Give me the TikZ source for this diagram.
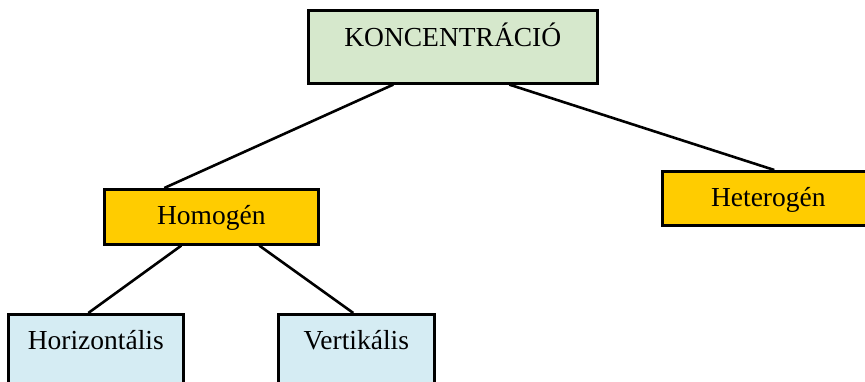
\documentclass[tikz,border=0pt]{standalone}
\usepackage{fontspec}
\setmainfont{Liberation Serif}
\definecolor{topgreen}{RGB}{214,232,204}
\definecolor{midyellow}{RGB}{255,204,0}
\definecolor{leafblue}{RGB}{213,236,243}
\begin{document}
\begin{tikzpicture}[x=1pt,y=-1pt,
  box/.style={draw=black, line width=2.6pt, anchor=north west, inner xsep=0pt,
    inner ysep=0pt, font=\fontsize{27.5}{32}\selectfont, align=center},
  link/.style={draw=black, line width=2.6pt}]
\useasboundingbox (0,0) rectangle (865,382);
\clip (0,0) rectangle (865,382);
% boxes: text height/depth place the baseline inside each box
\node[box, fill=topgreen, minimum width=289pt, text height=36pt, text depth=37pt]
  (k) at (307,9) {KONCENTRÁCIÓ};
\node[box, fill=midyellow, minimum width=214pt, text height=35pt, text depth=20pt]
  (hom) at (103,188) {Homogén};
\node[box, fill=midyellow, minimum width=212pt, text height=35pt, text depth=19pt]
  (het) at (661,170) {Heterogén};
\node[box, fill=leafblue, minimum width=175pt, text height=35pt, text depth=45pt]
  (hor) at (7,313) {Horizontális};
\node[box, fill=leafblue, minimum width=156pt, text height=35pt, text depth=45pt]
  (ver) at (277,313) {Vertikális};
% connectors
\draw[link] ([xshift=-59.5pt]k.south) -- ([xshift=-47pt]hom.north);
\draw[link] ([xshift=56.5pt]k.south) -- ([xshift=6pt]het.north);
\draw[link] ([xshift=-30pt]hom.south) -- ([xshift=-7.5pt]hor.north);
\draw[link] ([xshift=48pt]hom.south) -- ([xshift=-3pt]ver.north);
\end{tikzpicture}
\end{document}
